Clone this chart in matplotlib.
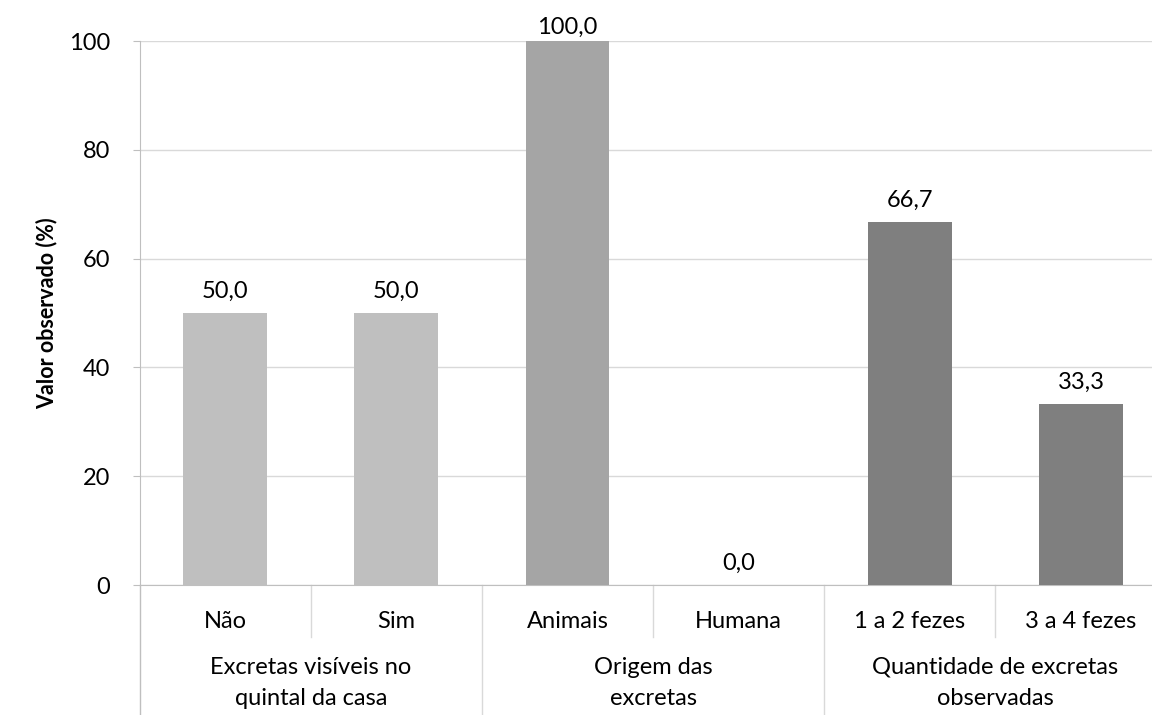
import matplotlib
matplotlib.use("Agg")
import matplotlib.pyplot as plt
from matplotlib.transforms import blended_transform_factory

plt.rcParams['font.family'] = ['Lato', 'DejaVu Sans']

categories = ["Não", "Sim", "Animais", "Humana", "1 a 2 fezes", "3 a 4 fezes"]
values = [50.0, 50.0, 100.0, 0.0, 66.7, 33.3]
groups = ["Excretas visíveis no\nquintal da casa", "Origem das\nexcretas",
          "Quantidade de excretas\nobservadas"]
group_sizes = [2, 2, 2]
group_colors = ["#BFBFBF", "#A5A5A5", "#7F7F7F"]
yticks = [0, 20, 40, 60, 80, 100]
ylabel = "Valor observado (%)"

FS = 17
W, H = 1152, 715
fig = plt.figure(figsize=(W / 100, H / 100), dpi=100)
left = 139.5 / W
width = 6 * 171.2 / W
bottom = (H - 585) / H
height = 544 / H
ax = fig.add_axes([left, bottom, width, height])

colors = []
for c, n in zip(group_colors, group_sizes):
    colors += [c] * n
xs = list(range(len(categories)))
ax.bar(xs, values, width=0.49, color=colors, zorder=3)
for x, v in zip(xs, values):
    off = 15 if v < 95 else 7  # px; top label is kept inside the plot area
    ax.annotate(f"{v:.1f}".replace(".", ","), (x, v), xytext=(0, off * 0.72),
                textcoords="offset points", ha="center", va="baseline",
                fontsize=FS, color="#000000")

ax.set_xlim(-0.5, len(categories) - 0.5)
ax.set_ylim(0, 100)
ax.set_yticks(yticks)
ax.set_yticklabels([str(t) for t in yticks], fontsize=FS)
ax.tick_params(axis='y', length=5, color="#BFBFBF", pad=16)
ax.set_xticks([])
ax.grid(axis='y', color="#D9D9D9", linewidth=1, zorder=0)
for s in ["top", "right"]:
    ax.spines[s].set_visible(False)
ax.spines["left"].set_color("#BFBFBF")
ax.spines["bottom"].set_color("#BFBFBF")

ax.set_ylabel(ylabel, fontsize=15.5, fontweight="bold")
ax.yaxis.set_label_coords((57 - 139.5) / (6 * 171.2), 0.5)

trans = blended_transform_factory(ax.transData, ax.transAxes)
px = 1 / 544
sub_end = -(637 - 585) * px
grp_end = -(H - 585) * px - 0.01
for x, c in zip(xs, categories):
    ax.text(x, -(621 - 585) * px, c, transform=trans, ha="center",
            va="center", fontsize=FS)
pos = -0.5
ax.plot([pos, pos], [0, grp_end], transform=trans, color="#BFBFBF",
        lw=1, clip_on=False)
for g, n in zip(groups, group_sizes):
    for k in range(1, n):
        ax.plot([pos + k, pos + k], [0, sub_end], transform=trans,
                color="#D9D9D9", lw=1, clip_on=False)
    ax.text(pos + n / 2, -(683 - 585) * px, g, transform=trans, ha="center",
            va="center", fontsize=FS, linespacing=1.6)
    pos += n
    ax.plot([pos, pos], [0, grp_end], transform=trans, color="#D9D9D9",
            lw=1, clip_on=False)

fig.savefig("out.png", dpi=100)
